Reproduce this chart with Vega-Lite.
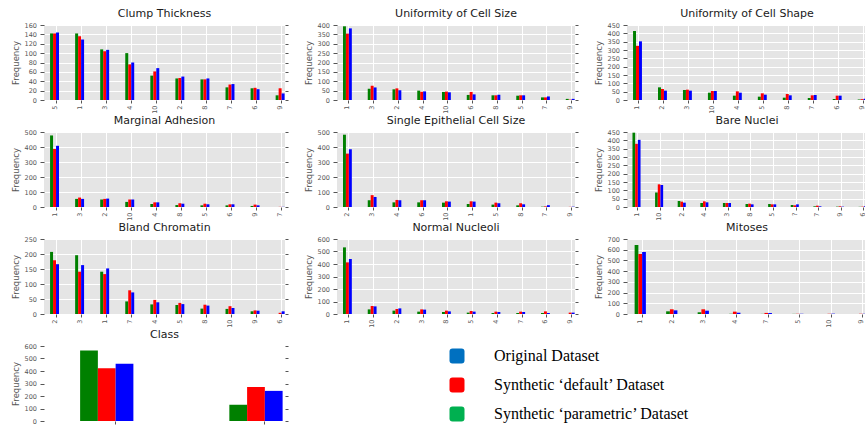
{
"$schema": "https://vega.github.io/schema/vega-lite/v6.json",
"padding": {"left": 11, "top": 8, "right": 0, "bottom": 0},
"background": "#ffffff",
"bounds": "flush",
"columns": 3,
"spacing": {"row": 32, "column": 52},
"resolve": {"scale": {"xOffset": "independent", "x": "independent", "y": "independent"}},
"data": {"values": [
{"f":"CT","c":"5","s":"P","n":142},{"f":"CT","c":"5","s":"D","n":142},{"f":"CT","c":"5","s":"O","n":144},
{"f":"CT","c":"1","s":"P","n":142},{"f":"CT","c":"1","s":"D","n":136},{"f":"CT","c":"1","s":"O","n":129},
{"f":"CT","c":"3","s":"P","n":108},{"f":"CT","c":"3","s":"D","n":104},{"f":"CT","c":"3","s":"O","n":107},
{"f":"CT","c":"4","s":"P","n":100},{"f":"CT","c":"4","s":"D","n":76},{"f":"CT","c":"4","s":"O","n":80},
{"f":"CT","c":"10","s":"P","n":52},{"f":"CT","c":"10","s":"D","n":61},{"f":"CT","c":"10","s":"O","n":68},
{"f":"CT","c":"2","s":"P","n":46},{"f":"CT","c":"2","s":"D","n":47},{"f":"CT","c":"2","s":"O","n":50},
{"f":"CT","c":"8","s":"P","n":44},{"f":"CT","c":"8","s":"D","n":44},{"f":"CT","c":"8","s":"O","n":46},
{"f":"CT","c":"7","s":"P","n":27},{"f":"CT","c":"7","s":"D","n":33},{"f":"CT","c":"7","s":"O","n":34},
{"f":"CT","c":"6","s":"P","n":25},{"f":"CT","c":"6","s":"D","n":26},{"f":"CT","c":"6","s":"O","n":23},
{"f":"CT","c":"9","s":"P","n":10},{"f":"CT","c":"9","s":"D","n":25},{"f":"CT","c":"9","s":"O","n":14},

{"f":"UCS","c":"1","s":"P","n":393},{"f":"UCS","c":"1","s":"D","n":354},{"f":"UCS","c":"1","s":"O","n":382},
{"f":"UCS","c":"3","s":"P","n":60},{"f":"UCS","c":"3","s":"D","n":76},{"f":"UCS","c":"3","s":"O","n":67},
{"f":"UCS","c":"2","s":"P","n":57},{"f":"UCS","c":"2","s":"D","n":62},{"f":"UCS","c":"2","s":"O","n":52},
{"f":"UCS","c":"4","s":"P","n":50},{"f":"UCS","c":"4","s":"D","n":44},{"f":"UCS","c":"4","s":"O","n":46},
{"f":"UCS","c":"10","s":"P","n":43},{"f":"UCS","c":"10","s":"D","n":45},{"f":"UCS","c":"10","s":"O","n":41},
{"f":"UCS","c":"6","s":"P","n":27},{"f":"UCS","c":"6","s":"D","n":43},{"f":"UCS","c":"6","s":"O","n":30},
{"f":"UCS","c":"8","s":"P","n":25},{"f":"UCS","c":"8","s":"D","n":25},{"f":"UCS","c":"8","s":"O","n":28},
{"f":"UCS","c":"5","s":"P","n":23},{"f":"UCS","c":"5","s":"D","n":25},{"f":"UCS","c":"5","s":"O","n":25},
{"f":"UCS","c":"7","s":"P","n":14},{"f":"UCS","c":"7","s":"D","n":14},{"f":"UCS","c":"7","s":"O","n":19},
{"f":"UCS","c":"9","s":"P","n":6},{"f":"UCS","c":"9","s":"D","n":2},{"f":"UCS","c":"9","s":"O","n":6},

{"f":"UCSh","c":"1","s":"P","n":414},{"f":"UCSh","c":"1","s":"D","n":325},{"f":"UCSh","c":"1","s":"O","n":352},
{"f":"UCSh","c":"2","s":"P","n":76},{"f":"UCSh","c":"2","s":"D","n":66},{"f":"UCSh","c":"2","s":"O","n":56},
{"f":"UCSh","c":"3","s":"P","n":60},{"f":"UCSh","c":"3","s":"D","n":62},{"f":"UCSh","c":"3","s":"O","n":56},
{"f":"UCSh","c":"10","s":"P","n":44},{"f":"UCSh","c":"10","s":"D","n":54},{"f":"UCSh","c":"10","s":"O","n":54},
{"f":"UCSh","c":"4","s":"P","n":26},{"f":"UCSh","c":"4","s":"D","n":52},{"f":"UCSh","c":"4","s":"O","n":44},
{"f":"UCSh","c":"5","s":"P","n":20},{"f":"UCSh","c":"5","s":"D","n":40},{"f":"UCSh","c":"5","s":"O","n":32},
{"f":"UCSh","c":"8","s":"P","n":14},{"f":"UCSh","c":"8","s":"D","n":36},{"f":"UCSh","c":"8","s":"O","n":28},
{"f":"UCSh","c":"7","s":"P","n":12},{"f":"UCSh","c":"7","s":"D","n":28},{"f":"UCSh","c":"7","s":"O","n":30},
{"f":"UCSh","c":"6","s":"P","n":6},{"f":"UCSh","c":"6","s":"D","n":26},{"f":"UCSh","c":"6","s":"O","n":26},
{"f":"UCSh","c":"9","s":"P","n":3},{"f":"UCSh","c":"9","s":"D","n":5},{"f":"UCSh","c":"9","s":"O","n":7},

{"f":"MA","c":"1","s":"P","n":477},{"f":"MA","c":"1","s":"D","n":387},{"f":"MA","c":"1","s":"O","n":408},
{"f":"MA","c":"3","s":"P","n":54},{"f":"MA","c":"3","s":"D","n":63},{"f":"MA","c":"3","s":"O","n":54},
{"f":"MA","c":"2","s":"P","n":50},{"f":"MA","c":"2","s":"D","n":54},{"f":"MA","c":"2","s":"O","n":56},
{"f":"MA","c":"10","s":"P","n":34},{"f":"MA","c":"10","s":"D","n":50},{"f":"MA","c":"10","s":"O","n":50},
{"f":"MA","c":"4","s":"P","n":20},{"f":"MA","c":"4","s":"D","n":31},{"f":"MA","c":"4","s":"O","n":31},
{"f":"MA","c":"8","s":"P","n":13},{"f":"MA","c":"8","s":"D","n":25},{"f":"MA","c":"8","s":"O","n":22},
{"f":"MA","c":"5","s":"P","n":11},{"f":"MA","c":"5","s":"D","n":22},{"f":"MA","c":"5","s":"O","n":18},
{"f":"MA","c":"6","s":"P","n":11},{"f":"MA","c":"6","s":"D","n":18},{"f":"MA","c":"6","s":"O","n":18},
{"f":"MA","c":"9","s":"P","n":7},{"f":"MA","c":"9","s":"D","n":16},{"f":"MA","c":"9","s":"O","n":11},
{"f":"MA","c":"7","s":"P","n":0},{"f":"MA","c":"7","s":"D","n":1},{"f":"MA","c":"7","s":"O","n":1},

{"f":"SECS","c":"2","s":"P","n":482},{"f":"SECS","c":"2","s":"D","n":356},{"f":"SECS","c":"2","s":"O","n":385},
{"f":"SECS","c":"3","s":"P","n":45},{"f":"SECS","c":"3","s":"D","n":79},{"f":"SECS","c":"3","s":"O","n":67},
{"f":"SECS","c":"4","s":"P","n":31},{"f":"SECS","c":"4","s":"D","n":47},{"f":"SECS","c":"4","s":"O","n":45},
{"f":"SECS","c":"6","s":"P","n":31},{"f":"SECS","c":"6","s":"D","n":45},{"f":"SECS","c":"6","s":"O","n":45},
{"f":"SECS","c":"10","s":"P","n":29},{"f":"SECS","c":"10","s":"D","n":38},{"f":"SECS","c":"10","s":"O","n":36},
{"f":"SECS","c":"1","s":"P","n":20},{"f":"SECS","c":"1","s":"D","n":38},{"f":"SECS","c":"1","s":"O","n":36},
{"f":"SECS","c":"5","s":"P","n":16},{"f":"SECS","c":"5","s":"D","n":29},{"f":"SECS","c":"5","s":"O","n":25},
{"f":"SECS","c":"8","s":"P","n":11},{"f":"SECS","c":"8","s":"D","n":25},{"f":"SECS","c":"8","s":"O","n":18},
{"f":"SECS","c":"7","s":"P","n":2},{"f":"SECS","c":"7","s":"D","n":4},{"f":"SECS","c":"7","s":"O","n":12},
{"f":"SECS","c":"9","s":"P","n":0},{"f":"SECS","c":"9","s":"D","n":1},{"f":"SECS","c":"9","s":"O","n":2},

{"f":"BN","c":"1","s":"P","n":446},{"f":"BN","c":"1","s":"D","n":379},{"f":"BN","c":"1","s":"O","n":403},
{"f":"BN","c":"10","s":"P","n":87},{"f":"BN","c":"10","s":"D","n":136},{"f":"BN","c":"10","s":"O","n":132},
{"f":"BN","c":"2","s":"P","n":36},{"f":"BN","c":"2","s":"D","n":32},{"f":"BN","c":"2","s":"O","n":26},
{"f":"BN","c":"4","s":"P","n":24},{"f":"BN","c":"4","s":"D","n":34},{"f":"BN","c":"4","s":"O","n":28},
{"f":"BN","c":"3","s":"P","n":24},{"f":"BN","c":"3","s":"D","n":24},{"f":"BN","c":"3","s":"O","n":24},
{"f":"BN","c":"8","s":"P","n":18},{"f":"BN","c":"8","s":"D","n":20},{"f":"BN","c":"8","s":"O","n":16},
{"f":"BN","c":"5","s":"P","n":18},{"f":"BN","c":"5","s":"D","n":16},{"f":"BN","c":"5","s":"O","n":16},
{"f":"BN","c":"?","s":"P","n":12},{"f":"BN","c":"?","s":"D","n":10},{"f":"BN","c":"?","s":"O","n":16},
{"f":"BN","c":"7","s":"P","n":4},{"f":"BN","c":"7","s":"D","n":8},{"f":"BN","c":"7","s":"O","n":4},
{"f":"BN","c":"9","s":"P","n":2},{"f":"BN","c":"9","s":"D","n":4},{"f":"BN","c":"9","s":"O","n":2},
{"f":"BN","c":"6","s":"P","n":1},{"f":"BN","c":"6","s":"D","n":2},{"f":"BN","c":"6","s":"O","n":4},

{"f":"BC","c":"2","s":"P","n":207},{"f":"BC","c":"2","s":"D","n":179},{"f":"BC","c":"2","s":"O","n":166},
{"f":"BC","c":"3","s":"P","n":196},{"f":"BC","c":"3","s":"D","n":141},{"f":"BC","c":"3","s":"O","n":163},
{"f":"BC","c":"1","s":"P","n":141},{"f":"BC","c":"1","s":"D","n":133},{"f":"BC","c":"1","s":"O","n":152},
{"f":"BC","c":"7","s":"P","n":42},{"f":"BC","c":"7","s":"D","n":79},{"f":"BC","c":"7","s":"O","n":72},
{"f":"BC","c":"4","s":"P","n":32},{"f":"BC","c":"4","s":"D","n":47},{"f":"BC","c":"4","s":"O","n":39},
{"f":"BC","c":"5","s":"P","n":30},{"f":"BC","c":"5","s":"D","n":37},{"f":"BC","c":"5","s":"O","n":33},
{"f":"BC","c":"8","s":"P","n":18},{"f":"BC","c":"8","s":"D","n":31},{"f":"BC","c":"8","s":"O","n":28},
{"f":"BC","c":"10","s":"P","n":17},{"f":"BC","c":"10","s":"D","n":26},{"f":"BC","c":"10","s":"O","n":20},
{"f":"BC","c":"9","s":"P","n":9},{"f":"BC","c":"9","s":"D","n":12},{"f":"BC","c":"9","s":"O","n":11},
{"f":"BC","c":"6","s":"P","n":0},{"f":"BC","c":"6","s":"D","n":4},{"f":"BC","c":"6","s":"O","n":9},

{"f":"NN","c":"1","s":"P","n":533},{"f":"NN","c":"1","s":"D","n":413},{"f":"NN","c":"1","s":"O","n":440},
{"f":"NN","c":"10","s":"P","n":37},{"f":"NN","c":"10","s":"D","n":64},{"f":"NN","c":"10","s":"O","n":61},
{"f":"NN","c":"2","s":"P","n":27},{"f":"NN","c":"2","s":"D","n":40},{"f":"NN","c":"2","s":"O","n":45},
{"f":"NN","c":"3","s":"P","n":19},{"f":"NN","c":"3","s":"D","n":37},{"f":"NN","c":"3","s":"O","n":35},
{"f":"NN","c":"8","s":"P","n":16},{"f":"NN","c":"8","s":"D","n":27},{"f":"NN","c":"8","s":"O","n":21},
{"f":"NN","c":"5","s":"P","n":11},{"f":"NN","c":"5","s":"D","n":24},{"f":"NN","c":"5","s":"O","n":19},
{"f":"NN","c":"4","s":"P","n":8},{"f":"NN","c":"4","s":"D","n":19},{"f":"NN","c":"4","s":"O","n":16},
{"f":"NN","c":"7","s":"P","n":8},{"f":"NN","c":"7","s":"D","n":19},{"f":"NN","c":"7","s":"O","n":16},
{"f":"NN","c":"6","s":"P","n":8},{"f":"NN","c":"6","s":"D","n":21},{"f":"NN","c":"6","s":"O","n":8},
{"f":"NN","c":"9","s":"P","n":0},{"f":"NN","c":"9","s":"D","n":11},{"f":"NN","c":"9","s":"O","n":11},

{"f":"MI","c":"1","s":"P","n":644},{"f":"MI","c":"1","s":"D","n":560},{"f":"MI","c":"1","s":"O","n":579},
{"f":"MI","c":"2","s":"P","n":25},{"f":"MI","c":"2","s":"D","n":44},{"f":"MI","c":"2","s":"O","n":34},
{"f":"MI","c":"3","s":"P","n":16},{"f":"MI","c":"3","s":"D","n":44},{"f":"MI","c":"3","s":"O","n":31},
{"f":"MI","c":"4","s":"P","n":2},{"f":"MI","c":"4","s":"D","n":22},{"f":"MI","c":"4","s":"O","n":12},
{"f":"MI","c":"7","s":"P","n":1},{"f":"MI","c":"7","s":"D","n":10},{"f":"MI","c":"7","s":"O","n":9},
{"f":"MI","c":"5","s":"P","n":1},{"f":"MI","c":"5","s":"D","n":2},{"f":"MI","c":"5","s":"O","n":2},
{"f":"MI","c":"10","s":"P","n":0},{"f":"MI","c":"10","s":"D","n":2},{"f":"MI","c":"10","s":"O","n":3},
{"f":"MI","c":"9","s":"P","n":0},{"f":"MI","c":"9","s":"D","n":2},{"f":"MI","c":"9","s":"O","n":2},

{"f":"CL","c":"2","s":"P","n":565},{"f":"CL","c":"2","s":"D","n":422},{"f":"CL","c":"2","s":"O","n":458},
{"f":"CL","c":"4","s":"P","n":130},{"f":"CL","c":"4","s":"D","n":272},{"f":"CL","c":"4","s":"O","n":241}
]},
"concat": [
{"title": "Clump Thickness", "width": 241, "height": 75,
 "transform": [{"filter": "datum.f === 'CT'"}],
 "resolve": {"axis": {"y": "independent"}},
 "layer": [
  {"mark": "bar",
   "encoding": {
    "x": {"field": "c", "type": "nominal", "sort": null, "scale": {"paddingInner": 0.643, "paddingOuter": 0.129, "align": 0.938}, "axis": {"bandPosition": 0.667}},
    "xOffset": {"field": "s", "type": "nominal", "scale": {"domain": ["P", "D", "O"]}},
    "y": {"field": "n", "type": "quantitative", "scale": {"domain": [0, 160], "nice": false}, "axis": {"values": [0, 20, 40, 60, 80, 100, 120, 140, 160], "title": "Frequency"}},
    "fill": {"field": "s", "type": "nominal", "scale": {"domain": ["P", "D", "O"], "range": ["#008000", "#FF0000", "#0000FF"]}, "legend": null}}},
  {"mark": {"type": "point", "opacity": 0},
   "encoding": {"y": {"field": "n", "type": "quantitative", "axis": {"orient": "right", "labels": false, "title": null, "grid": false, "tickSize": 3, "values": [0, 20, 40, 60, 80, 100, 120, 140, 160]}}}}
 ]},
{"title": "Uniformity of Cell Size", "width": 238, "height": 75,
 "transform": [{"filter": "datum.f === 'UCS'"}],
 "resolve": {"axis": {"y": "independent"}},
 "layer": [
  {"mark": "bar",
   "encoding": {
    "x": {"field": "c", "type": "nominal", "sort": null, "scale": {"paddingInner": 0.643, "paddingOuter": 0.129, "align": 0.938}, "axis": {"bandPosition": 0.667}},
    "xOffset": {"field": "s", "type": "nominal", "scale": {"domain": ["P", "D", "O"]}},
    "y": {"field": "n", "type": "quantitative", "scale": {"domain": [0, 400], "nice": false}, "axis": {"values": [0, 50, 100, 150, 200, 250, 300, 350, 400], "title": "Frequency"}},
    "fill": {"field": "s", "type": "nominal", "legend": null}}},
  {"mark": {"type": "point", "opacity": 0},
   "encoding": {"y": {"field": "n", "type": "quantitative", "axis": {"orient": "right", "labels": false, "title": null, "grid": false, "tickSize": 3, "values": [0, 50, 100, 150, 200, 250, 300, 350, 400]}}}}
 ]},
{"title": "Uniformity of Cell Shape", "width": 240, "height": 75,
 "transform": [{"filter": "datum.f === 'UCSh'"}],
 "resolve": {"axis": {"y": "independent"}},
 "layer": [
  {"mark": "bar",
   "encoding": {
    "x": {"field": "c", "type": "nominal", "sort": null, "scale": {"paddingInner": 0.643, "paddingOuter": 0.129, "align": 0.938}, "axis": {"bandPosition": 0.667}},
    "xOffset": {"field": "s", "type": "nominal", "scale": {"domain": ["P", "D", "O"]}},
    "y": {"field": "n", "type": "quantitative", "scale": {"domain": [0, 450], "nice": false}, "axis": {"values": [0, 50, 100, 150, 200, 250, 300, 350, 400, 450], "title": "Frequency"}},
    "fill": {"field": "s", "type": "nominal", "legend": null}}},
  {"mark": {"type": "point", "opacity": 0},
   "encoding": {"y": {"field": "n", "type": "quantitative", "axis": {"orient": "right", "labels": false, "title": null, "grid": false, "tickSize": 3, "values": [0, 50, 100, 150, 200, 250, 300, 350, 400, 450]}}}}
 ]},
{"title": "Marginal Adhesion", "width": 241, "height": 75,
 "transform": [{"filter": "datum.f === 'MA'"}],
 "resolve": {"axis": {"y": "independent"}},
 "layer": [
  {"mark": "bar",
   "encoding": {
    "x": {"field": "c", "type": "nominal", "sort": null, "scale": {"paddingInner": 0.643, "paddingOuter": 0.129, "align": 0.938}, "axis": {"bandPosition": 0.667}},
    "xOffset": {"field": "s", "type": "nominal", "scale": {"domain": ["P", "D", "O"]}},
    "y": {"field": "n", "type": "quantitative", "scale": {"domain": [0, 500], "nice": false}, "axis": {"values": [0, 100, 200, 300, 400, 500], "title": "Frequency"}},
    "fill": {"field": "s", "type": "nominal", "legend": null}}},
  {"mark": {"type": "point", "opacity": 0},
   "encoding": {"y": {"field": "n", "type": "quantitative", "axis": {"orient": "right", "labels": false, "title": null, "grid": false, "tickSize": 3, "values": [0, 100, 200, 300, 400, 500]}}}}
 ]},
{"title": "Single Epithelial Cell Size", "width": 238, "height": 75,
 "transform": [{"filter": "datum.f === 'SECS'"}],
 "resolve": {"axis": {"y": "independent"}},
 "layer": [
  {"mark": "bar",
   "encoding": {
    "x": {"field": "c", "type": "nominal", "sort": null, "scale": {"paddingInner": 0.643, "paddingOuter": 0.129, "align": 0.938}, "axis": {"bandPosition": 0.667}},
    "xOffset": {"field": "s", "type": "nominal", "scale": {"domain": ["P", "D", "O"]}},
    "y": {"field": "n", "type": "quantitative", "scale": {"domain": [0, 500], "nice": false}, "axis": {"values": [0, 100, 200, 300, 400, 500], "title": "Frequency"}},
    "fill": {"field": "s", "type": "nominal", "legend": null}}},
  {"mark": {"type": "point", "opacity": 0},
   "encoding": {"y": {"field": "n", "type": "quantitative", "axis": {"orient": "right", "labels": false, "title": null, "grid": false, "tickSize": 3, "values": [0, 100, 200, 300, 400, 500]}}}}
 ]},
{"title": "Bare Nuclei", "width": 240, "height": 75,
 "transform": [{"filter": "datum.f === 'BN'"}],
 "resolve": {"axis": {"y": "independent"}},
 "layer": [
  {"mark": "bar",
   "encoding": {
    "x": {"field": "c", "type": "nominal", "sort": null, "scale": {"paddingInner": 0.643, "paddingOuter": 0.129, "align": 0.938}, "axis": {"bandPosition": 0.667}},
    "xOffset": {"field": "s", "type": "nominal", "scale": {"domain": ["P", "D", "O"]}},
    "y": {"field": "n", "type": "quantitative", "scale": {"domain": [0, 450], "nice": false}, "axis": {"values": [0, 50, 100, 150, 200, 250, 300, 350, 400, 450], "title": "Frequency"}},
    "fill": {"field": "s", "type": "nominal", "legend": null}}},
  {"mark": {"type": "point", "opacity": 0},
   "encoding": {"y": {"field": "n", "type": "quantitative", "axis": {"orient": "right", "labels": false, "title": null, "grid": false, "tickSize": 3, "values": [0, 50, 100, 150, 200, 250, 300, 350, 400, 450]}}}}
 ]},
{"title": "Bland Chromatin", "width": 241, "height": 75,
 "transform": [{"filter": "datum.f === 'BC'"}],
 "resolve": {"axis": {"y": "independent"}},
 "layer": [
  {"mark": "bar",
   "encoding": {
    "x": {"field": "c", "type": "nominal", "sort": null, "scale": {"paddingInner": 0.643, "paddingOuter": 0.129, "align": 0.938}, "axis": {"bandPosition": 0.667}},
    "xOffset": {"field": "s", "type": "nominal", "scale": {"domain": ["P", "D", "O"]}},
    "y": {"field": "n", "type": "quantitative", "scale": {"domain": [0, 250], "nice": false}, "axis": {"values": [0, 50, 100, 150, 200, 250], "title": "Frequency"}},
    "fill": {"field": "s", "type": "nominal", "legend": null}}},
  {"mark": {"type": "point", "opacity": 0},
   "encoding": {"y": {"field": "n", "type": "quantitative", "axis": {"orient": "right", "labels": false, "title": null, "grid": false, "tickSize": 3, "values": [0, 50, 100, 150, 200, 250]}}}}
 ]},
{"title": "Normal Nucleoli", "width": 238, "height": 75,
 "transform": [{"filter": "datum.f === 'NN'"}],
 "resolve": {"axis": {"y": "independent"}},
 "layer": [
  {"mark": "bar",
   "encoding": {
    "x": {"field": "c", "type": "nominal", "sort": null, "scale": {"paddingInner": 0.643, "paddingOuter": 0.129, "align": 0.938}, "axis": {"bandPosition": 0.667}},
    "xOffset": {"field": "s", "type": "nominal", "scale": {"domain": ["P", "D", "O"]}},
    "y": {"field": "n", "type": "quantitative", "scale": {"domain": [0, 600], "nice": false}, "axis": {"values": [0, 100, 200, 300, 400, 500, 600], "title": "Frequency"}},
    "fill": {"field": "s", "type": "nominal", "legend": null}}},
  {"mark": {"type": "point", "opacity": 0},
   "encoding": {"y": {"field": "n", "type": "quantitative", "axis": {"orient": "right", "labels": false, "title": null, "grid": false, "tickSize": 3, "values": [0, 100, 200, 300, 400, 500, 600]}}}}
 ]},
{"title": "Mitoses", "width": 240, "height": 75,
 "transform": [{"filter": "datum.f === 'MI'"}],
 "resolve": {"axis": {"y": "independent"}},
 "layer": [
  {"mark": "bar",
   "encoding": {
    "x": {"field": "c", "type": "nominal", "sort": null, "scale": {"paddingInner": 0.643, "paddingOuter": 0.129, "align": 0.938}, "axis": {"bandPosition": 0.667}},
    "xOffset": {"field": "s", "type": "nominal", "scale": {"domain": ["P", "D", "O"]}},
    "y": {"field": "n", "type": "quantitative", "scale": {"domain": [0, 700], "nice": false}, "axis": {"values": [0, 100, 200, 300, 400, 500, 600, 700], "title": "Frequency"}},
    "fill": {"field": "s", "type": "nominal", "legend": null}}},
  {"mark": {"type": "point", "opacity": 0},
   "encoding": {"y": {"field": "n", "type": "quantitative", "axis": {"orient": "right", "labels": false, "title": null, "grid": false, "tickSize": 3, "values": [0, 100, 200, 300, 400, 500, 600, 700]}}}}
 ]},
{"title": "Class", "width": 241, "height": 75,
 "resolve": {"axis": {"y": "independent"}},
 "layer": [
  {"transform": [{"filter": "datum.f === 'CL'"}],
   "mark": "bar",
   "encoding": {
    "x": {"field": "c", "type": "nominal", "sort": null, "scale": {"paddingInner": 0.643, "paddingOuter": 0.129, "align": 0.938}, "axis": {"bandPosition": 0.667}},
    "xOffset": {"field": "s", "type": "nominal", "scale": {"domain": ["P", "D", "O"]}},
    "y": {"field": "n", "type": "quantitative", "scale": {"domain": [0, 600], "nice": false}, "axis": {"values": [0, 100, 200, 300, 400, 500, 600], "title": "Frequency"}},
    "fill": {"field": "s", "type": "nominal", "legend": null}}},
  {"transform": [{"filter": "datum.f === 'CL'"}],
   "mark": {"type": "point", "opacity": 0},
   "encoding": {"y": {"field": "n", "type": "quantitative", "axis": {"orient": "right", "labels": false, "title": null, "grid": false, "tickSize": 3, "values": [0, 100, 200, 300, 400, 500, 600]}}}},
  {"data": {"values": [{"lg": "O"}, {"lg": "D"}, {"lg": "P"}]},
   "transform": [{"filter": "datum.lg === 'none'"}],
   "mark": "bar",
   "encoding": {
    "color": {"field": "lg", "type": "nominal",
     "scale": {"domain": ["O", "D", "P"], "range": ["#0070C0", "#FF0000", "#00B050"]},
     "legend": {"orient": "none", "legendX": 405, "legendY": 323, "title": null, "direction": "vertical",
       "symbolType": "M-1,-0.6Q-1,-1,-0.6,-1L0.6,-1Q1,-1,1,-0.6L1,0.6Q1,1,0.6,1L-0.6,1Q-1,1,-1,0.6Z",
       "symbolSize": 225, "symbolStrokeWidth": 0, "symbolOpacity": 1,
       "labelFont": "Liberation Serif", "labelFontSize": 16, "labelColor": "#000000", "labelOffset": 29, "rowPadding": 13, "labelLimit": 400,
       "labelExpr": "datum.value === 'O' ? 'Original Dataset' : datum.value === 'D' ? 'Synthetic ‘default’ Dataset' : 'Synthetic ‘parametric’ Dataset'"}}}}
 ]}
],
"config": {
 "font": "DejaVu Sans",
 "view": {"fill": "#E5E5E5", "stroke": null},
 "axis": {"domain": false, "grid": true, "gridColor": "#FFFFFF", "gridWidth": 1, "gridOpacity": 1, "tickColor": "#555555", "tickSize": 3, "labelColor": "#555555", "labelFontSize": 6.5, "labelFont": "DejaVu Sans", "titleFont": "DejaVu Sans", "titleFontSize": 8.5, "titleFontWeight": "normal", "titleColor": "#555555"},
 "axisX": {"labelAngle": 270, "title": null, "labelPadding": 2},
 "axisY": {"labelPadding": 3.5, "titlePadding": 4, "tickSize": 4},
 "title": {"fontSize": 11, "fontWeight": "normal", "color": "#1a1a1a", "offset": 3, "font": "DejaVu Sans"}
}
}
